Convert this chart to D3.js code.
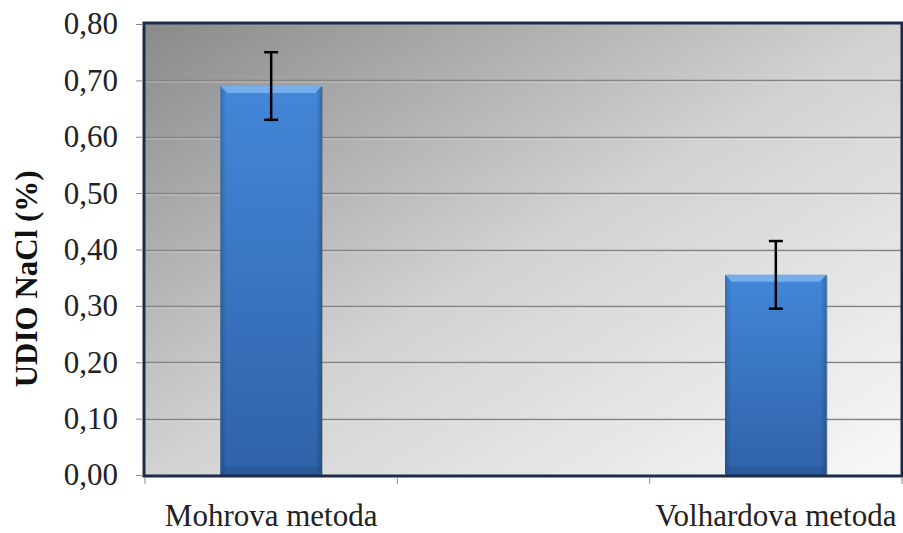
<!DOCTYPE html>
<html>
<head>
<meta charset="utf-8">
<script src="https://cdn.jsdelivr.net/npm/d3@7"></script>
<style>
  html, body { margin: 0; padding: 0; background: #fff; }
  svg { display: block; }
  svg text { font-family: "Liberation Serif", "Times New Roman", Times, "DejaVu Serif", serif; }
</style>
</head>
<body>
<svg id="chart" width="903" height="533"></svg>
<script>
// data
const categories = ["Mohrova metoda", "", "Volhardova metoda"]
const values = [0.69, null, 0.355]
const errors = [0.06, null, 0.06]
const yTicks = [0, 0.1, 0.2, 0.3, 0.4, 0.5, 0.6, 0.7, 0.8]
const yTitle = "UDIO NaCl (%)"

const width = 903,
    height = 533,
    margin = { top: 24, right: 1, bottom: 58, left: 145 },
    innerW = width - margin.left - margin.right,
    innerH = height - margin.top - margin.bottom

const svg = d3.select("#chart")
const defs = svg.append("defs")

// plot background gradient (dark top-left -> light bottom-right)
const bg = defs.append("linearGradient").attr("id", "bg")
    .attr("x1", 0).attr("y1", 0).attr("x2", 1).attr("y2", 1)
bg.append("stop").attr("offset", 0).attr("stop-color", "#8a8a8a")
bg.append("stop").attr("offset", 0.5).attr("stop-color", "#d2d2d2")
bg.append("stop").attr("offset", 1).attr("stop-color", "#f8f8f8")

const barGrad = defs.append("linearGradient").attr("id", "bar")
    .attr("x1", 0).attr("y1", 0).attr("x2", 0).attr("y2", 1)
barGrad.append("stop").attr("offset", 0).attr("stop-color", "#4387d8")
barGrad.append("stop").attr("offset", 1).attr("stop-color", "#2f62a8")

const sideGrad = defs.append("linearGradient").attr("id", "side")
    .attr("x1", 0).attr("y1", 0).attr("x2", 1).attr("y2", 0)
sideGrad.append("stop").attr("offset", 0).attr("stop-color", "#000").attr("stop-opacity", 0.18)
sideGrad.append("stop").attr("offset", 0.06).attr("stop-color", "#000").attr("stop-opacity", 0)
sideGrad.append("stop").attr("offset", 0.94).attr("stop-color", "#000").attr("stop-opacity", 0)
sideGrad.append("stop").attr("offset", 1).attr("stop-color", "#000").attr("stop-opacity", 0.22)

const x = d3.scaleBand()
    .domain(categories)
    .range([0, innerW])
    .paddingInner(0.597)
    .paddingOuter(0.2985)

const y = d3.scaleLinear()
    .domain([0, 0.8])
    .range([innerH, 0])

const fmt = d3.formatLocale({ decimal: ",", thousands: ".", grouping: [3], currency: ["", ""] }).format(".2f")
const serif = "'Liberation Serif', 'Times New Roman', Times, serif"

const g = svg.append("g")
    .attr("transform", "translate(" + margin.left + "," + margin.top + ")")

g.append("rect")
    .attr("width", innerW).attr("height", innerH)
    .attr("fill", "url(#bg)")

// grid lines
g.append("g").selectAll("line")
    .data(yTicks.slice(1, -1))
    .join("line")
    .attr("x1", 0).attr("x2", innerW)
    .attr("y1", d => Math.round(y(d)) + 0.5).attr("y2", d => Math.round(y(d)) + 0.5)
    .attr("stroke", "#858585").attr("stroke-width", 1.5)
g.append("g").selectAll("line")
    .data(yTicks.slice(1, -1))
    .join("line")
    .attr("x1", 0).attr("x2", innerW)
    .attr("y1", d => Math.round(y(d)) + 2).attr("y2", d => Math.round(y(d)) + 2)
    .attr("stroke", "#fff").attr("stroke-opacity", 0.35)

// bars
const data = categories.map((c, i) => ({ cat: c, value: values[i], err: errors[i] }))
    .filter(d => d.value != null)

const bars = g.append("g").selectAll("g")
    .data(data)
    .join("g")

bars.append("rect")
    .attr("x", d => x(d.cat) + 1)
    .attr("y", d => y(d.value) + 1)
    .attr("width", x.bandwidth())
    .attr("height", d => innerH - y(d.value))
    .attr("fill", "#000").attr("opacity", 0.2)

bars.append("rect")
    .attr("x", d => x(d.cat))
    .attr("y", d => y(d.value))
    .attr("width", x.bandwidth())
    .attr("height", d => innerH - y(d.value))
    .attr("fill", "url(#bar)")

bars.append("rect")
    .attr("x", d => x(d.cat))
    .attr("y", d => y(d.value))
    .attr("width", x.bandwidth())
    .attr("height", d => innerH - y(d.value))
    .attr("fill", "url(#side)")

// top bevel
bars.append("path")
    .attr("d", d => {
        const x0 = x(d.cat), x1 = x0 + x.bandwidth(), y0 = y(d.value), b = 7
        return "M" + x0 + "," + y0 + "L" + x1 + "," + y0 + "L" + (x1 - b) + "," + (y0 + b) +
            "L" + (x0 + b) + "," + (y0 + b) + "Z"
    })
    .attr("fill", "#7fb4f0").attr("opacity", 0.85)

// bottom bevel
bars.append("rect")
    .attr("x", d => x(d.cat) + 2)
    .attr("y", innerH - 8)
    .attr("width", x.bandwidth() - 4)
    .attr("height", 8)
    .attr("fill", "#1f4a85").attr("opacity", 0.35)

// error bars
const cx = d => x(d.cat) + x.bandwidth() / 2
const errs = g.append("g").attr("stroke", "#000").attr("stroke-width", 2.5)
errs.selectAll(".stem").data(data).join("line").attr("class", "stem")
    .attr("x1", cx).attr("x2", cx)
    .attr("y1", d => y(d.value + d.err)).attr("y2", d => y(d.value - d.err))
errs.selectAll(".cap").data(data.flatMap(d => [
        { cat: d.cat, v: d.value + d.err }, { cat: d.cat, v: d.value - d.err }]))
    .join("line").attr("class", "cap")
    .attr("x1", d => cx(d) - 7).attr("x2", d => cx(d) + 7)
    .attr("y1", d => y(d.v)).attr("y2", d => y(d.v))

// frame
g.append("rect")
    .attr("x", -1).attr("y", -1)
    .attr("width", innerW + 1).attr("height", innerH + 2)
    .attr("fill", "none")
    .attr("stroke", "#1c2b47").attr("stroke-width", 3)

// y axis
const yAxis = g.append("g")
    .attr("transform", "translate(-3,0)")
    .call(d3.axisLeft(y).tickValues(yTicks).tickFormat(fmt).tickSize(6).tickPadding(18))
yAxis.attr("font-family", null)
yAxis.select(".domain").remove()
yAxis.selectAll(".tick line").attr("stroke", "#8a8a8a")
yAxis.selectAll("text")
    .style("font-family", serif)
    .attr("font-size", 31)
    .attr("fill", "#222")

// x axis ticks at band boundaries
const bounds = categories.map(c => x(c) - x.step() * x.paddingInner() / 2).concat([innerW])
g.append("g").selectAll("line")
    .data(bounds)
    .join("line")
    .attr("x1", d => d).attr("x2", d => d)
    .attr("y1", innerH + 2).attr("y2", innerH + 9)
    .attr("stroke", "#8a8a8a")

g.append("g").selectAll("text")
    .data(categories)
    .join("text")
    .attr("x", d => x(d) + x.bandwidth() / 2)
    .attr("y", innerH + 51)
    .attr("text-anchor", "middle")
    .style("font-family", serif)
    .attr("font-size", 31)
    .attr("fill", "#222")
    .text(d => d)

// y title
svg.append("text")
    .attr("transform", "translate(37," + (margin.top + innerH * 0.565) + ") rotate(-90)")
    .attr("text-anchor", "middle")
    .style("font-family", serif)
    .attr("font-weight", "bold")
    .attr("font-size", 31)
    .attr("fill", "#111")
    .text(yTitle)
</script>
</body>
</html>
